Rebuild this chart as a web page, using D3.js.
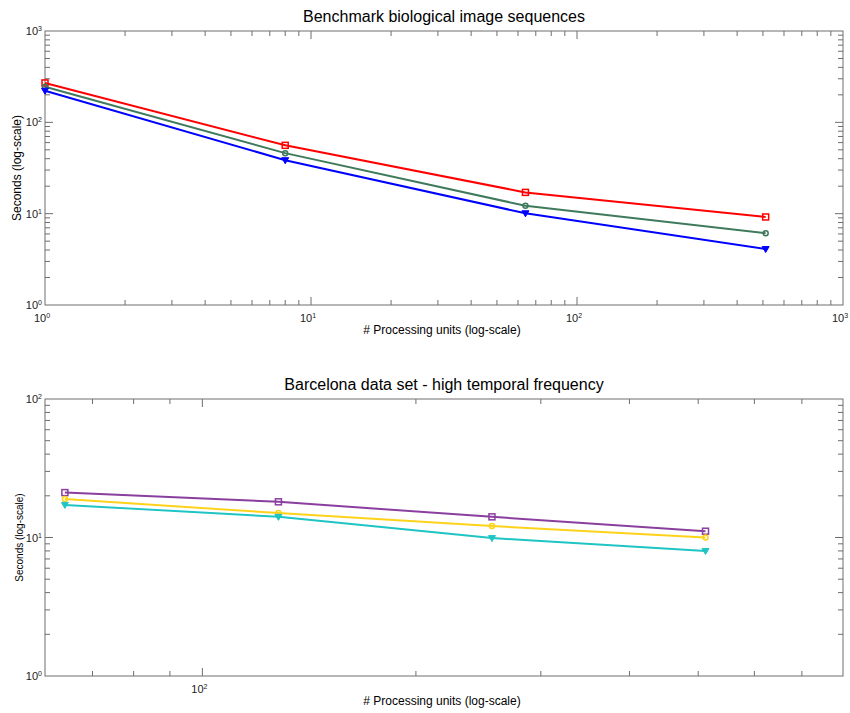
<!DOCTYPE html>
<html><head><meta charset="utf-8">
<script src="https://cdn.jsdelivr.net/npm/d3@7"></script>
<style>body{margin:0;background:#fff;} text{font-family:"Liberation Sans",Arial,sans-serif;}</style>
</head><body>
<svg id="c" width="850" height="713"></svg>
<script>
// Top panel data
const topUnits = [1, 8, 64, 512];
const topRed = [270, 56, 17.1, 9.2];
const topGreen = [245, 46, 12.2, 6.1];
const topBlue = [222, 38.5, 10.1, 4.1];
// Bottom panel data
const botUnits = [64, 128, 256, 512];
const botPurple = [21.1, 18.1, 14.1, 11.1];
const botYellow = [19, 15, 12.1, 10];
const botCyan = [17.2, 14.1, 9.9, 8.0];

const topXTicks = [1, 10, 100, 1000];
const topYTicks = [1, 10, 100, 1000];
const botXTicks = [100];
const botYTicks = [1, 10, 100];

const svg = d3.select("#c");
const axisColor = "#6e6e6e";

function minorTicks(lo, hi) {
  const out = [];
  for (let e = Math.floor(Math.log10(lo)); e <= Math.ceil(Math.log10(hi)); e++) {
    for (let m = 1; m <= 9; m++) {
      const v = m * Math.pow(10, e);
      if (v >= lo * 0.9999 && v <= hi * 1.0001) out.push(v);
    }
  }
  return out;
}

function supLabel(sel, v) {
  const e = Math.round(Math.log10(v));
  sel.text(null);
  sel.append("tspan").text("10");
  sel.append("tspan").attr("dy", "-0.55em").attr("font-size", "7px").text(e);
}

function panel(opt) {
  const {left, right, top, bottom, xDom, yDom, series, title, ylabel, ylabelSize, xlabelY, xMajor, yMajor} = opt;
  const x = d3.scaleLog().domain(xDom).range([left, right]);
  const y = d3.scaleLog().domain(yDom).range([bottom, top]);
  const g = svg.append("g");

  // box
  g.append("rect").attr("x", left).attr("y", top).attr("width", right - left).attr("height", bottom - top)
    .attr("fill", "none").attr("stroke", axisColor).attr("stroke-width", 1);

  const xm = minorTicks(xDom[0], xDom[1]).filter(v => x(v) > left + 0.5 && x(v) < right - 0.5);
  const ym = minorTicks(yDom[0], yDom[1]).filter(v => y(v) < bottom - 0.5 && y(v) > top + 0.5);
  const isMajor = v => Math.abs(Math.log10(v) - Math.round(Math.log10(v))) < 1e-6;

  xm.forEach(v => {
    const L = isMajor(v) ? 8 : 5;
    g.append("line").attr("x1", x(v)).attr("x2", x(v)).attr("y1", bottom).attr("y2", bottom - L).attr("stroke", axisColor);
    g.append("line").attr("x1", x(v)).attr("x2", x(v)).attr("y1", top).attr("y2", top + L).attr("stroke", axisColor);
  });
  ym.forEach(v => {
    const L = isMajor(v) ? 8 : 5;
    g.append("line").attr("y1", y(v)).attr("y2", y(v)).attr("x1", left).attr("x2", left + L).attr("stroke", axisColor);
    g.append("line").attr("y1", y(v)).attr("y2", y(v)).attr("x1", right).attr("x2", right - L).attr("stroke", axisColor);
  });

  // tick labels
  xMajor.forEach(v => {
    g.append("text").attr("x", x(v) - 3).attr("y", bottom + 17).attr("text-anchor", "middle")
      .attr("font-size", "11px").attr("fill", "#222").call(s => supLabel(s, v));
  });
  yMajor.forEach(v => {
    g.append("text").attr("x", left - 3).attr("y", y(v) + 4).attr("text-anchor", "end")
      .attr("font-size", "11px").attr("fill", "#222").call(s => supLabel(s, v));
  });

  // title and labels
  g.append("text").attr("x", 444).attr("y", top - 9).attr("text-anchor", "middle").attr("font-size", "16px").attr("fill", "#000").text(title);
  g.append("text").attr("x", 442).attr("y", xlabelY).attr("text-anchor", "middle").attr("font-size", "12px").attr("fill", "#000").text("# Processing units (log-scale)");
  g.append("text").attr("transform", `translate(${opt.ylabelX},${(top + bottom) / 2}) rotate(-90)`).attr("text-anchor", "middle")
    .attr("font-size", ylabelSize).attr("fill", "#000").text(ylabel);

  const line = d3.line().x(d => x(d[0])).y(d => y(d[1]));
  series.forEach(s => {
    const pts = s.xs.map((u, i) => [u, s.vals[i]]);
    g.append("path").datum(pts).attr("d", line).attr("fill", "none").attr("stroke", s.color).attr("stroke-width", 2);
    pts.forEach(p => {
      const cx = x(p[0]), cy = y(p[1]);
      if (s.marker === "square") {
        g.append("rect").attr("x", cx - 3).attr("y", cy - 3).attr("width", 6).attr("height", 6)
          .attr("fill", "none").attr("stroke", s.color).attr("stroke-width", 1.5);
      } else if (s.marker === "circle") {
        g.append("circle").attr("cx", cx).attr("cy", cy).attr("r", 2.5)
          .attr("fill", "none").attr("stroke", s.color).attr("stroke-width", 1.5);
      } else {
        g.append("path").attr("d", `M${cx - 3.5},${cy - 2.5}L${cx + 3.5},${cy - 2.5}L${cx},${cy + 3.5}Z`)
          .attr("fill", s.color).attr("stroke", s.color).attr("stroke-width", 1);
      }
    });
  });
}

panel({
  left: 45, right: 843, top: 31, bottom: 305,
  xDom: [1, 1000], yDom: [1, 1000],
  title: "Benchmark biological image sequences",
  ylabel: "Seconds (log-scale)", ylabelSize: "12px", ylabelX: 21,
  xlabelY: 334, xMajor: topXTicks, yMajor: topYTicks,
  series: [
    {xs: topUnits, vals: topRed, color: "#ff0000", marker: "square"},
    {xs: topUnits, vals: topGreen, color: "#3f7a5c", marker: "circle"},
    {xs: topUnits, vals: topBlue, color: "#0000ff", marker: "tri"}
  ]
});

panel({
  left: 45, right: 843, top: 399, bottom: 676,
  xDom: [60, 800], yDom: [1, 100],
  title: "Barcelona data set - high temporal frequency",
  ylabel: "Seconds (log-scale)", ylabelSize: "10px", ylabelX: 23,
  xlabelY: 705, xMajor: botXTicks, yMajor: botYTicks,
  series: [
    {xs: botUnits, vals: botPurple, color: "#8a3f9e", marker: "square"},
    {xs: botUnits, vals: botYellow, color: "#ffd21a", marker: "circle"},
    {xs: botUnits, vals: botCyan, color: "#1fc4c4", marker: "tri"}
  ]
});
</script>
</body></html>
